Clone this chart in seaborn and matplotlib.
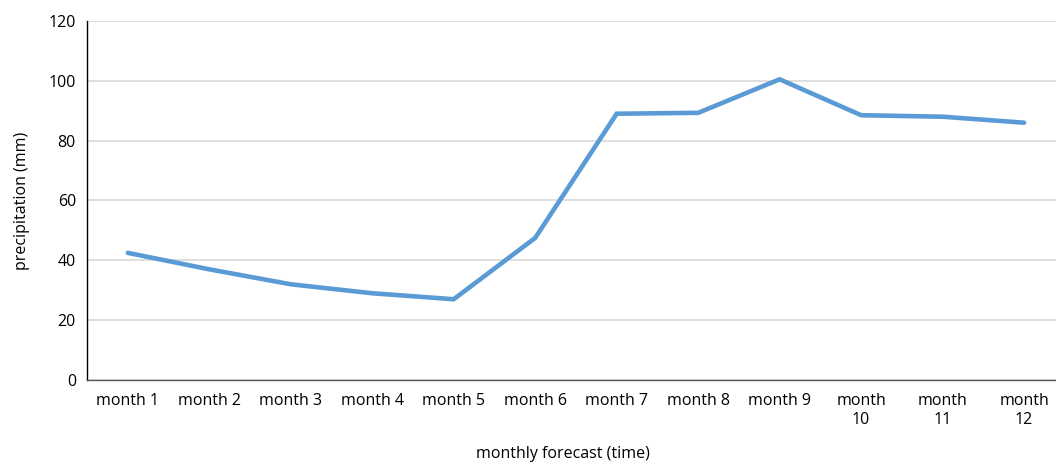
import matplotlib
matplotlib.use("Agg")
import matplotlib.pyplot as plt
import seaborn as sns
import pandas as pd

months = ["month 1", "month 2", "month 3", "month 4", "month 5", "month 6",
          "month 7", "month 8", "month 9", "month 10", "month 11", "month 12"]
tick_labels = ["month 1", "month 2", "month 3", "month 4", "month 5", "month 6",
               "month 7", "month 8", "month 9", "month\n10", "month\n11", "month\n12"]
precip = [42.5, 37, 32, 29, 27, 47.5, 89, 89.3, 100.5, 88.5, 88, 86]

sns.set_theme(style="white")
plt.rcParams['font.family'] = ['Open Sans', 'DejaVu Sans']

df = pd.DataFrame({"pos": range(len(months)), "precip": precip})

fig = plt.figure(figsize=(10.56, 4.66), dpi=100)
ax = fig.add_axes([0.0824, 0.1845, 0.926, 0.7705])
sns.lineplot(data=df, x="pos", y="precip", ax=ax, color="#5B9BD5", linewidth=3.3,
             solid_capstyle="round", solid_joinstyle="miter")

ax.set_xlim(-0.5, 11.5)
ax.set_ylim(0, 120)
ax.set_yticks(range(0, 121, 20))
ax.set_xticks(range(len(months)))
ax.set_xticklabels(tick_labels, fontsize=11.5, color="#000000", va="top", linespacing=1.3)
ax.tick_params(axis="y", labelsize=11.5, colors="#000000", length=0, pad=8)
ax.tick_params(axis="x", length=0, pad=9)
ax.yaxis.grid(True, color="#D9D9D9", linewidth=1.2)
ax.set_axisbelow(True)
for s in ["top", "right"]:
    ax.spines[s].set_visible(False)
ax.spines["left"].set_color("#000000")
ax.spines["left"].set_linewidth(1.0)
ax.spines["bottom"].set_color("#595959")
ax.spines["bottom"].set_linewidth(1.0)
ax.set_xlabel("monthly forecast (time)", fontsize=11.5, color="#000000")
ax.xaxis.set_label_coords(0.487, -0.185)
ax.set_ylabel("precipitation (mm)", fontsize=11.5, color="#000000", labelpad=13)

fig.savefig("out.png", dpi=100)
